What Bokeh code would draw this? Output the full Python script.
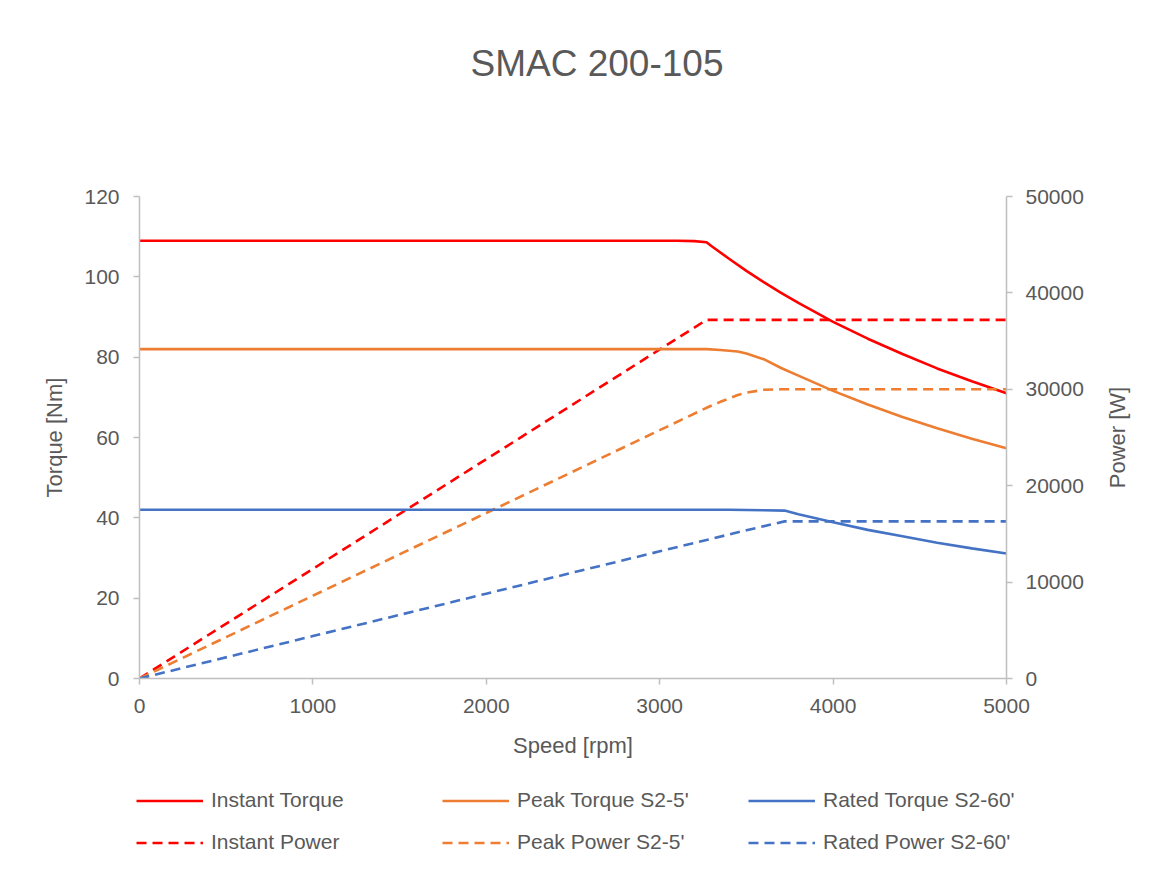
import math
from bokeh.plotting import figure
from bokeh.layouts import column, row
from bokeh.models import (Range1d, LinearAxis, FixedTicker, Legend, LegendItem, Label)
from bokeh.embed import file_html
from bokeh.resources import INLINE

# ---------------- data ----------------
title_text = "SMAC 200-105"
x_label = "Speed [rpm]"
y_label = "Torque [Nm]"
y2_label = "Power [W]"

x_ticks = [0, 1000, 2000, 3000, 4000, 5000]
y_ticks = [0, 20, 40, 60, 80, 100, 120]
y2_ticks = [0, 10000, 20000, 30000, 40000, 50000]

inst_torque_rpm = [0, 1000, 2000, 3000, 3100, 3200, 3270, 3300, 3400, 3500, 3600, 3700, 3800, 4000, 4200, 4400, 4600, 4800, 5000]
inst_torque_nm = [109, 109, 109, 109, 109, 108.9, 108.6, 107.6, 104.5, 101.5, 98.7, 96.0, 93.5, 88.8, 84.6, 80.8, 77.2, 74.0, 71.0]

inst_power_rpm = [0, 3270, 5000]
inst_power_w = [0, 37200, 37200]

peak_torque_rpm = [0, 1000, 2000, 3000, 3270, 3350, 3450, 3500, 3600, 3700, 3800, 4000, 4200, 4400, 4600, 4800, 5000]
peak_torque_nm = [82, 82, 82, 82, 82, 81.8, 81.4, 80.9, 79.5, 77.3, 75.4, 71.6, 68.2, 65.1, 62.3, 59.7, 57.3]

peak_power_rpm = [0, 1000, 2000, 3000, 3270, 3350, 3450, 3500, 3600, 3700, 5000]
peak_power_w = [0, 8590, 17170, 25760, 28080, 28700, 29400, 29650, 29950, 30000, 30000]

rated_torque_rpm = [0, 1000, 2000, 3000, 3400, 3500, 3600, 3720, 3800, 4000, 4200, 4400, 4600, 4800, 5000]
rated_torque_nm = [42, 42, 42, 42, 42, 41.95, 41.9, 41.8, 40.9, 38.9, 37.0, 35.4, 33.8, 32.4, 31.1]

rated_power_rpm = [0, 1000, 2000, 3000, 3500, 3720, 5000]
rated_power_w = [0, 4400, 8800, 13190, 15380, 16300, 16300]

labels = ["Instant Torque", "Instant Power", "Peak Torque S2-5'", "Peak Power S2-5'",
          "Rated Torque S2-60'", "Rated Power S2-60'"]

# ---------------- style ----------------
FONT = "Liberation Sans"
TXT = "#595959"
AX = "#BFBFBF"
RED = "#FF0000"
ORANGE = "#ED7D31"
BLUE = "#4472C4"
LW = 2.6
DASH = "10 6"
colors = [RED, RED, ORANGE, ORANGE, BLUE, BLUE]
dashes = ["solid", DASH, "solid", DASH, "solid", DASH]

W = 1149
W_RIGHT = 45
H_TITLE = 130
H_LEG = 99
H_MAIN = 869 - H_TITLE - H_LEG
W_MAIN = W - W_RIGHT


def bare(fig):
    fig.outline_line_color = None
    fig.grid.visible = False
    fig.background_fill_color = "white"
    fig.border_fill_color = "white"


def strip(w, h):
    f = figure(width=w, height=h, output_backend="svg", toolbar_location=None,
               x_range=Range1d(0, w), y_range=Range1d(0, h),
               min_border=0, min_border_left=0, min_border_right=0, min_border_top=0, min_border_bottom=0,
               x_axis_type=None, y_axis_type=None, frame_align=False)
    bare(f)
    return f


# ---- title strip ----
pt = strip(W, H_TITLE)
pt.add_layout(Label(x=596.5, y=H_TITLE - 63, text=title_text, text_align="center",
                    text_baseline="middle", text_font=FONT, text_font_size="37px", text_color=TXT))

# ---- main chart ----
p = figure(width=W_MAIN, height=H_MAIN, output_backend="svg", toolbar_location=None,
           x_range=Range1d(0, 5000), y_range=Range1d(0, 120),
           min_border_left=139, min_border_right=W_MAIN - 1006, min_border_top=196 - H_TITLE,
           min_border_bottom=H_MAIN - (678 - H_TITLE), frame_align=False)
bare(p)
p.extra_y_ranges = {"power": Range1d(0, 50000)}


def style_axis(ax, ticks):
    ax.ticker = FixedTicker(ticks=ticks)
    ax.axis_line_color = AX
    ax.axis_line_width = 1.5
    ax.major_tick_line_color = AX
    ax.major_tick_line_width = 1.5
    ax.major_tick_in = 0
    ax.major_tick_out = 6
    ax.minor_tick_line_color = None
    ax.major_label_text_font = FONT
    ax.major_label_text_font_size = "21px"
    ax.major_label_text_color = TXT
    ax.axis_label_text_font = FONT
    ax.axis_label_text_font_size = "22px"
    ax.axis_label_text_color = TXT
    ax.axis_label_text_font_style = "normal"


p.xaxis.axis_label = x_label
p.yaxis.axis_label = y_label
style_axis(p.xaxis[0], x_ticks)
style_axis(p.yaxis[0], y_ticks)
p.xaxis.major_label_standoff = 14
p.yaxis.major_label_standoff = 14
p.xaxis.axis_label_standoff = 17
p.yaxis.axis_label_standoff = 14

ax2 = LinearAxis(y_range_name="power")
style_axis(ax2, y2_ticks)
ax2.major_label_standoff = 13
p.add_layout(ax2, "right")

p.line(inst_torque_rpm, inst_torque_nm, line_color=RED, line_width=LW)
p.line(inst_power_rpm, inst_power_w, line_color=RED, line_width=LW, line_dash=DASH, y_range_name="power")
p.line(peak_torque_rpm, peak_torque_nm, line_color=ORANGE, line_width=LW)
p.line(peak_power_rpm, peak_power_w, line_color=ORANGE, line_width=LW, line_dash=DASH, y_range_name="power")
p.line(rated_torque_rpm, rated_torque_nm, line_color=BLUE, line_width=LW)
p.line(rated_power_rpm, rated_power_w, line_color=BLUE, line_width=LW, line_dash=DASH, y_range_name="power")

# ---- right-axis title strip ----
pr = strip(W_RIGHT, H_MAIN)
pr.add_layout(Label(x=1117 - W_MAIN, y=H_MAIN - (437 - H_TITLE), text=y2_label, angle=math.pi / 2,
                    text_align="center", text_baseline="middle",
                    text_font=FONT, text_font_size="22px", text_color=TXT))

# ---- legend strip ----
pl = strip(W, H_LEG)
# swatch renderers (lie outside the visible range; only their legend glyphs show)
swatches = [pl.line(x=[-20, -10], y=[-20, -20], line_color=colors[i], line_width=LW, line_dash=dashes[i])
            for i in range(6)]

col_x = [136, 442, 748]
ROW = 25
SP = 17
LEG_H = 2 * ROW + SP
top = (800 - (869 - H_LEG)) - ROW / 2
for c in range(3):
    items = [LegendItem(label=labels[2 * c], renderers=[swatches[2 * c]]),
             LegendItem(label=labels[2 * c + 1], renderers=[swatches[2 * c + 1]])]
    lg = Legend(items=items, location=(col_x[c], H_LEG - top - LEG_H), orientation="vertical",
                padding=0, margin=0, spacing=SP, glyph_width=67, glyph_height=ROW,
                label_standoff=8, label_height=ROW,
                label_text_font=FONT, label_text_font_size="21px", label_text_color=TXT,
                border_line_color=None, background_fill_alpha=0)
    pl.add_layout(lg, "center")

layout = column(pt, row(p, pr, spacing=0), pl, spacing=0)
open("out.html", "w").write(file_html(layout, INLINE))
